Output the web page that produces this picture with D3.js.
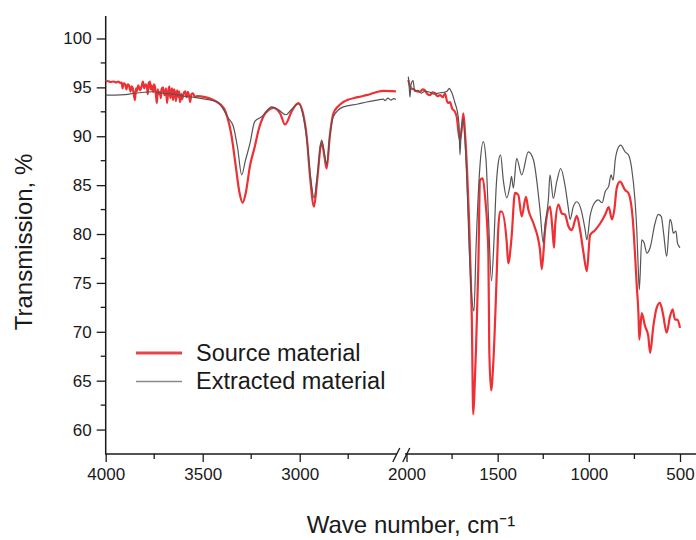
<!DOCTYPE html>
<html>
<head>
<meta charset="utf-8">
<script src="https://cdn.jsdelivr.net/npm/d3@7"></script>
<style>
  body { margin: 0; background: #fff; }
  svg { display: block; font-family: "Liberation Sans", Arial, sans-serif; }
</style>
</head>
<body>
<script>
// FTIR spectra, [wavenumber, transmission %]
var sourceHigh = [
  [4000, 95.6], [3990, 95.65], [3975, 95.55], [3960, 95.6], [3945, 95.5], [3935, 95.6], [3925, 95.45],
  [3918, 95.5], [3913, 94.9], [3908, 95.4], [3900, 95.3], [3893, 94.8], [3887, 95.3], [3880, 95.2],
  [3872, 94.6], [3866, 95.1], [3862, 95.0], [3856, 94.4], [3849, 93.7], [3844, 94.9], [3840, 94.6],
  [3832, 95.2], [3823, 94.7], [3815, 95.1], [3808, 95.6], [3802, 94.9], [3795, 95.3], [3787, 95.0],
  [3783, 94.3], [3779, 95.4], [3772, 95.6], [3768, 94.8], [3764, 95.2], [3756, 94.55], [3751, 95.3],
  [3746, 95.05], [3741, 94.2], [3736, 93.4], [3732, 94.8], [3728, 94.3], [3720, 94.55], [3716, 93.9],
  [3712, 94.8], [3705, 95.0], [3700, 94.4], [3695, 94.2], [3689, 94.9], [3684, 93.4], [3678, 94.5],
  [3672, 95.1], [3667, 93.9], [3663, 94.3], [3658, 94.9], [3653, 93.7], [3648, 94.8], [3643, 94.5],
  [3638, 93.6], [3632, 94.7], [3625, 94.0], [3621, 94.6], [3617, 93.5], [3610, 94.3], [3606, 93.8],
  [3602, 94.05], [3596, 94.5], [3590, 94.6], [3583, 94.0], [3576, 94.55], [3568, 93.9], [3565, 93.5],
  [3558, 94.3], [3550, 94.4], [3540, 94.0], [3529, 94.1], [3488, 94.0], [3450, 93.75], [3426, 93.5],
  [3411, 93.3], [3380, 92.4], [3351, 90.0], [3330, 87.0], [3310, 84.2], [3294, 83.2], [3278, 84.2],
  [3256, 87.0], [3232, 88.9], [3210, 90.8], [3188, 92.0], [3160, 92.7], [3136, 92.9], [3100, 92.3],
  [3076, 91.2], [3040, 92.6], [3007, 93.4], [2985, 92.5], [2964, 90.0], [2945, 85.5], [2926, 82.8],
  [2910, 85.5], [2887, 89.4], [2873, 88.0], [2861, 86.7], [2845, 90.0], [2827, 92.3], [2800, 93.1],
  [2775, 93.5], [2700, 94.0], [2655, 94.2], [2569, 94.65], [2504, 94.6]
];
var extractedHigh = [
  [4000, 94.2], [3950, 94.2], [3900, 94.25], [3850, 94.4], [3800, 94.5], [3760, 94.55], [3700, 94.4],
  [3650, 94.3], [3600, 94.1], [3550, 94.0], [3488, 93.8], [3426, 93.5], [3395, 92.8], [3370, 91.9],
  [3342, 91.0], [3320, 88.8], [3299, 86.05], [3280, 87.5], [3256, 89.3], [3232, 91.5], [3196, 92.0],
  [3144, 93.0], [3110, 92.7], [3071, 92.2], [3040, 92.8], [3007, 93.3], [2985, 92.4], [2964, 89.8],
  [2945, 86.0], [2926, 83.7], [2910, 85.8], [2887, 89.6], [2873, 88.3], [2861, 87.1], [2845, 90.0],
  [2827, 92.0], [2775, 93.0], [2700, 93.3], [2655, 93.5], [2600, 93.7], [2569, 93.8], [2560, 93.65],
  [2545, 93.9], [2530, 93.7], [2515, 93.85], [2504, 93.75]
];
var sourceLow = [
  [1990, 95.75], [1982, 95.2], [1975, 94.9], [1960, 94.8], [1945, 94.6], [1926, 94.55], [1912, 94.8],
  [1899, 94.7], [1885, 94.3], [1871, 94.2], [1858, 94.5], [1844, 94.4], [1830, 94.1], [1816, 94.2],
  [1800, 94.0], [1789, 94.4], [1778, 93.6], [1772, 93.4], [1761, 93.5], [1750, 92.85], [1734, 92.5],
  [1723, 91.8], [1716, 90.6], [1707, 89.6], [1696, 90.95], [1688, 92.35], [1679, 90.3], [1668, 86.6],
  [1657, 81.5], [1646, 74.5], [1642, 71.6], [1634, 61.55], [1628, 63.5], [1619, 68.2], [1606, 76.7],
  [1597, 85.5], [1582, 85.7], [1569, 83.8], [1551, 78.05], [1546, 68.2], [1536, 64.0], [1524, 66.8],
  [1505, 76.0], [1498, 80.0], [1487, 82.3], [1478, 82.3], [1450, 79.1], [1442, 77.0], [1424, 79.6],
  [1405, 84.2], [1387, 84.0], [1368, 81.8], [1345, 83.8], [1332, 82.5], [1304, 81.1], [1268, 78.4],
  [1258, 76.4], [1240, 80.4], [1213, 82.8], [1198, 80.1], [1191, 78.6], [1185, 80.8], [1167, 83.0],
  [1148, 82.1], [1131, 82.0], [1112, 80.8], [1094, 80.4], [1066, 81.85], [1048, 80.4], [1029, 78.05],
  [1011, 76.2], [993, 79.9], [965, 80.4], [937, 81.1], [910, 82.0], [891, 82.75], [873, 81.5],
  [860, 82.5], [847, 84.7], [829, 85.35], [801, 84.5], [783, 84.2], [759, 81.5], [747, 78.05],
  [737, 74.65], [728, 71.9], [723, 69.2], [710, 71.9], [692, 70.6], [674, 69.55], [664, 67.85],
  [646, 70.6], [628, 72.45], [610, 72.95], [594, 71.9], [573, 69.9], [555, 71.55], [540, 72.3],
  [528, 71.25], [514, 71.25], [500, 70.4]
];
var extractedLow = [
  [1990, 96.1], [1985, 95.0], [1981, 94.0], [1975, 95.3], [1964, 95.7], [1955, 94.6], [1937, 94.7],
  [1920, 94.4], [1900, 94.6], [1871, 94.5], [1850, 94.3], [1816, 94.45], [1795, 94.5], [1778, 94.6],
  [1765, 94.9], [1761, 94.8], [1750, 94.4], [1734, 93.4], [1723, 92.7], [1712, 91.2], [1707, 88.1],
  [1700, 90.5], [1690, 91.8], [1679, 89.5], [1668, 85.0], [1657, 79.0], [1646, 74.65], [1630, 72.1],
  [1619, 78.4], [1597, 87.0], [1579, 89.45], [1564, 87.6], [1550, 81.5], [1534, 75.2], [1520, 79.4],
  [1509, 84.5], [1498, 87.1], [1484, 88.1], [1469, 85.5], [1450, 83.7], [1432, 85.0], [1424, 85.9],
  [1414, 84.7], [1396, 87.75], [1368, 86.05], [1332, 88.4], [1304, 87.6], [1268, 82.5], [1250, 79.1],
  [1240, 81.0], [1222, 83.5], [1213, 86.05], [1195, 83.65], [1176, 85.35], [1154, 86.7], [1131, 85.0],
  [1112, 82.6], [1103, 81.5], [1085, 82.8], [1066, 83.3], [1044, 82.6], [1020, 80.4], [1011, 79.4],
  [993, 81.85], [965, 83.3], [948, 83.5], [927, 83.2], [910, 84.35], [891, 84.9], [878, 86.05],
  [867, 85.5], [855, 87.6], [837, 88.9], [825, 89.1], [801, 88.4], [783, 88.1], [765, 86.7],
  [747, 83.5], [737, 80.4], [728, 76.0], [723, 74.3], [710, 79.4], [697, 79.1], [682, 78.05],
  [664, 78.6], [637, 81.1], [619, 82.0], [603, 81.8], [590, 80.1], [573, 77.7], [555, 81.5],
  [546, 81.1], [537, 80.1], [522, 80.3], [514, 79.1], [500, 78.6]
];

var yMajor = [60, 65, 70, 75, 80, 85, 90, 95, 100];
var yMinor = [62.5, 67.5, 72.5, 77.5, 82.5, 87.5, 92.5, 97.5];
var xMajorHigh = [4000, 3500, 3000];
var xMinorHigh = [3750, 3250, 2750];
var xMajorLow = [2000, 1500, 1000, 500];
var xMinorLow = [1750, 1250, 750];
var seriesNames = ["Source material", "Extracted material"];

var width = 696, height = 540;

var svg = d3.select("body").append("svg")
    .attr("width", width)
    .attr("height", height);

var y = d3.scaleLinear().domain([57.5, 102.3]).range([454, 16]);
var xHigh = d3.scaleLinear().domain([4000, 2500]).range([105.7, 396.7]);
var xLow = d3.scaleLinear().domain([2000, 500]).range([406.5, 680]);

var axisY = 454;

// y axis
var gy = svg.append("g").attr("transform", "translate(105.7,0)");
gy.call(d3.axisLeft(y).tickValues(yMajor).tickFormat(d3.format("d"))
    .tickSize(9).tickPadding(5).tickSizeOuter(0));
gy.select(".domain").remove();
gy.selectAll(".tick text").style("font-size", "17px").attr("fill", "#1a1a1a");
gy.selectAll(".tick line").attr("stroke", "#1a1a1a").attr("stroke-width", 1.3);
gy.selectAll(".minor").data(yMinor).enter().append("line")
    .attr("x1", -5).attr("x2", 0)
    .attr("y1", function (d) { return y(d); })
    .attr("y2", function (d) { return y(d); })
    .attr("stroke", "#1a1a1a").attr("stroke-width", 1.3);
gy.append("line").attr("x1", 0).attr("x2", 0).attr("y1", 16).attr("y2", axisY)
    .attr("stroke", "#1a1a1a").attr("stroke-width", 1.5);

// x axis, two pieces with a break
function xAxisPiece(scale, major, minor, x1, x2) {
    var g = svg.append("g").attr("transform", "translate(0," + axisY + ")");
    g.call(d3.axisBottom(scale).tickValues(major).tickFormat(d3.format("d"))
        .tickSize(8).tickPadding(6).tickSizeOuter(0));
    g.select(".domain").remove();
    g.selectAll(".tick text").style("font-size", "17px").attr("fill", "#1a1a1a");
    g.selectAll(".tick line").attr("stroke", "#1a1a1a").attr("stroke-width", 1.3);
    g.selectAll(".minor").data(minor).enter().append("line")
        .attr("x1", function (d) { return scale(d); })
        .attr("x2", function (d) { return scale(d); })
        .attr("y1", 0).attr("y2", 5)
        .attr("stroke", "#1a1a1a").attr("stroke-width", 1.3);
    g.append("line").attr("x1", x1).attr("x2", x2).attr("y1", 0).attr("y2", 0)
        .attr("stroke", "#1a1a1a").attr("stroke-width", 1.5);
}
xAxisPiece(xHigh, xMajorHigh, xMinorHigh, 105, 397);
xAxisPiece(xLow, xMajorLow, xMinorLow, 405, 696);

// break marks
[396.3, 406.3].forEach(function (cx) {
    svg.append("line")
        .attr("x1", cx - 3.5).attr("y1", axisY + 8)
        .attr("x2", cx + 3.5).attr("y2", axisY - 6)
        .attr("stroke", "#1a1a1a").attr("stroke-width", 1.3);
});

// spectra
function lineFor(scale) {
    return d3.line()
        .x(function (d) { return scale(d[0]); })
        .y(function (d) { return y(d[1]); })
        .curve(d3.curveMonotoneX);
}

var plot = svg.append("g");
plot.append("path").datum(sourceHigh).attr("d", lineFor(xHigh))
    .attr("fill", "none").attr("stroke", "#ee2f34").attr("stroke-width", 2.2);
plot.append("path").datum(sourceLow).attr("d", lineFor(xLow))
    .attr("fill", "none").attr("stroke", "#ee2f34").attr("stroke-width", 2.2);
plot.append("path").datum(extractedHigh).attr("d", lineFor(xHigh))
    .attr("fill", "none").attr("stroke", "#555").attr("stroke-width", 1.2);
plot.append("path").datum(extractedLow).attr("d", lineFor(xLow))
    .attr("fill", "none").attr("stroke", "#555").attr("stroke-width", 1.2);

// legend
var legend = svg.append("g");
legend.append("line").attr("x1", 136).attr("x2", 182).attr("y1", 353).attr("y2", 353)
    .attr("stroke", "#e8454b").attr("stroke-width", 3);
legend.append("line").attr("x1", 136).attr("x2", 182).attr("y1", 381.5).attr("y2", 381.5)
    .attr("stroke", "#8a8a8a").attr("stroke-width", 1.5);
legend.append("text").attr("x", 196).attr("y", 361).text(seriesNames[0])
    .style("font-size", "23.5px").attr("fill", "#1a1a1a");
legend.append("text").attr("x", 196).attr("y", 389).text(seriesNames[1])
    .style("font-size", "23.5px").attr("fill", "#1a1a1a");

// axis titles
svg.append("text")
    .attr("transform", "translate(32,242) rotate(-90)")
    .attr("text-anchor", "middle")
    .style("font-size", "24px").attr("fill", "#1a1a1a")
    .text("Transmission, %");

svg.append("text")
    .attr("x", 411).attr("y", 533)
    .attr("text-anchor", "middle")
    .style("font-size", "24px").attr("fill", "#1a1a1a")
    .text("Wave number, cm\u207B\u00B9");
</script>
</body>
</html>
